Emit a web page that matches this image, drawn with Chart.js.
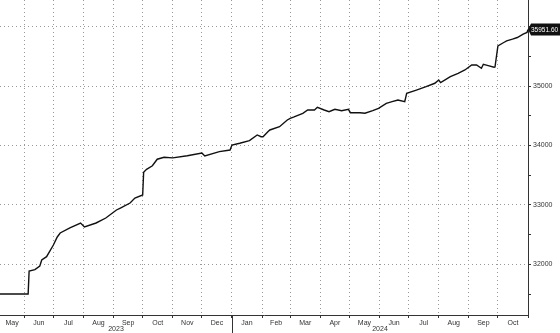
<!DOCTYPE html>
<html>
<head>
<meta charset="utf-8">
<script src="https://cdn.jsdelivr.net/npm/chart.js@4.4.1/dist/chart.umd.min.js"></script>
<style>
  html, body { margin: 0; padding: 0; background: #fff; }
  #wrap { width: 560px; height: 333px; position: relative; }
</style>
</head>
<body>
<div id="wrap"><canvas id="chart"></canvas></div>
<script>
// values
const dates = [
  "2023-05-07", "2023-06-05", "2023-06-06", "2023-06-12", "2023-06-17", "2023-06-19",
  "2023-06-24", "2023-07-01", "2023-07-05", "2023-07-08", "2023-07-18", "2023-07-29",
  "2023-08-02", "2023-08-14", "2023-08-24", "2023-09-04", "2023-09-08", "2023-09-18",
  "2023-09-23", "2023-10-01", "2023-10-02", "2023-10-05", "2023-10-11", "2023-10-16",
  "2023-10-23", "2023-11-01", "2023-11-16", "2023-12-01", "2023-12-04", "2023-12-19",
  "2023-12-30", "2024-01-01", "2024-01-09", "2024-01-19", "2024-01-27", "2024-01-31",
  "2024-02-02", "2024-02-07", "2024-02-09", "2024-02-19", "2024-02-27", "2024-03-01",
  "2024-03-05", "2024-03-14", "2024-03-19", "2024-03-26", "2024-03-29", "2024-04-05",
  "2024-04-10", "2024-04-16", "2024-04-23", "2024-04-30", "2024-05-02", "2024-05-12",
  "2024-05-17", "2024-05-25", "2024-05-31", "2024-06-08", "2024-06-14", "2024-06-20",
  "2024-06-27", "2024-06-29", "2024-07-09", "2024-07-19", "2024-07-28", "2024-08-01",
  "2024-08-03", "2024-08-13", "2024-08-21", "2024-08-28", "2024-09-04", "2024-09-09",
  "2024-09-14", "2024-09-16", "2024-09-21", "2024-09-27", "2024-09-28", "2024-10-01",
  "2024-10-07", "2024-10-10", "2024-10-16", "2024-10-21", "2024-10-27", "2024-10-31",
  "2024-11-01"
];
const values = [
  31500, 31500, 31887, 31910, 31971, 32072,
  32128, 32325, 32460, 32527, 32611, 32695,
  32628, 32695, 32779, 32914, 32947, 33031,
  33116, 33166, 33548, 33598, 33658, 33768,
  33800, 33790, 33826, 33873, 33822, 33895,
  33923, 34007, 34036, 34080, 34176, 34147,
  34147, 34231, 34260, 34315, 34428, 34457,
  34480, 34541, 34596, 34596, 34642, 34596,
  34568, 34608, 34585, 34608, 34551, 34551,
  34541, 34585, 34625, 34709, 34736, 34765,
  34736, 34877, 34932, 34988, 35046, 35100,
  35056, 35157, 35214, 35270, 35354, 35354,
  35298, 35365, 35343, 35315, 35320, 35675,
  35732, 35759, 35788, 35816, 35872, 35900,
  35951.6
];
const yTicks = [31500, 32000, 32500, 33000, 33500, 34000, 34500, 35000, 35500, 36000];
const monthNames = ["Jan", "Feb", "Mar", "Apr", "May", "Jun", "Jul", "Aug", "Sep", "Oct", "Nov", "Dec"];
const yearLabels = ["2023", "2024"];
const lastLabel = "35951.60";

const DAY = 86400000;
const base = Date.UTC(2024, 0, 1);
function dayNum(s) {
  const p = s.split("-").map(Number);
  return (Date.UTC(p[0], p[1] - 1, p[2]) - base) / DAY;
}
function dayOf(y, m) { return (Date.UTC(y, m, 1) - base) / DAY; }

const xMin = dayNum(dates[0]);
const xMax = dayNum(dates[dates.length - 1]);

// month boundaries and label positions
const xTicks = [];
for (let y = 2023; y <= 2024; y++) {
  for (let m = 0; m < 12; m++) {
    const a = dayOf(y, m), b = dayOf(y, m + 1);
    if (b <= xMin || a >= xMax) continue;
    if (a >= xMin) xTicks.push({ value: a, kind: "b", label: "" });
    const mid = (Math.max(a, xMin) + Math.min(b, xMax)) / 2;
    xTicks.push({ value: mid, kind: "m", label: monthNames[m] });
  }
}
xTicks.push({ value: xMax, kind: "b", label: "" });
xTicks.sort((p, q) => p.value - q.value);

const points = dates.map((d, i) => ({ x: dayNum(d), y: values[i] }));

Chart.defaults.font.family = "'Liberation Sans', Arial, sans-serif";
Chart.defaults.font.size = 7;
Chart.defaults.color = "#333";

const extras = {
  id: "extras",
  afterDraw(chart) {
    const ctx = chart.ctx;
    const xs = chart.scales.x, ys = chart.scales.y;
    const bottom = chart.chartArea.bottom;
    ctx.save();
    // year separator and labels
    const sep = xs.getPixelForValue(0);
    ctx.strokeStyle = "#333";
    ctx.lineWidth = 1;
    ctx.beginPath();
    ctx.moveTo(Math.round(sep) + 0.5, bottom);
    ctx.lineTo(Math.round(sep) + 0.5, 333);
    ctx.stroke();
    ctx.fillStyle = "#333";
    ctx.font = "7px 'Liberation Sans', Arial, sans-serif";
    ctx.textAlign = "center";
    ctx.textBaseline = "middle";
    ctx.fillText(yearLabels[0], (xs.left + sep) / 2, 329);
    ctx.fillText(yearLabels[1], (sep + xs.right) / 2, 329);
    // last value tag
    const cy = ys.getPixelForValue(values[values.length - 1]);
    const lx = chart.chartArea.right;
    ctx.fillStyle = "#111";
    ctx.beginPath();
    ctx.moveTo(lx, cy);
    ctx.lineTo(lx + 3, cy - 6);
    ctx.lineTo(560, cy - 6);
    ctx.lineTo(560, cy + 6);
    ctx.lineTo(lx + 3, cy + 6);
    ctx.closePath();
    ctx.fill();
    ctx.fillStyle = "#fff";
    ctx.font = "6.5px 'Liberation Sans', Arial, sans-serif";
    ctx.textAlign = "left";
    ctx.fillText(lastLabel, lx + 3, cy + 0.5);
    ctx.restore();
  }
};

new Chart(document.getElementById("chart"), {
  type: "line",
  data: {
    datasets: [{
      data: points,
      borderColor: "#111",
      borderWidth: 1.4,
      pointRadius: 0,
      tension: 0,
      fill: false
    }]
  },
  options: {
    responsive: true,
    maintainAspectRatio: false,
    animation: false,
    layout: { padding: 0 },
    plugins: { legend: { display: false }, tooltip: { enabled: false } },
    scales: {
      x: {
        type: "linear",
        min: xMin,
        max: xMax,
        afterBuildTicks(scale) { scale.ticks = xTicks.map(t => ({ value: t.value })); },
        afterFit(scale) { scale.height = 18; scale.paddingLeft = 0; scale.paddingRight = 0; },
        ticks: {
          autoSkip: false,
          maxRotation: 0,
          padding: 1,
          color: "#333",
          callback(v, i) { return xTicks[i] ? xTicks[i].label : ""; }
        },
        grid: {
          color: c => (c.tick && xTicks[c.index] && xTicks[c.index].kind === "b") ? "#999" : "rgba(0,0,0,0)",
          tickColor: c => (xTicks[c.index] && xTicks[c.index].kind === "b") ? "#333" : "rgba(0,0,0,0)",
          tickLength: 3,
          lineWidth: 1
        },
        border: { display: true, color: "#333", width: 1, dash: [1, 3] }
      },
      y: {
        position: "right",
        min: 31147,
        max: 36447,
        afterBuildTicks(scale) { scale.ticks = yTicks.map(v => ({ value: v })); },
        afterFit(scale) { scale.width = 32; scale.paddingTop = 0; scale.paddingBottom = 0; },
        ticks: {
          padding: 2,
          color: "#333",
          callback: v => (v % 1000 === 0 ? String(v) : "")
        },
        grid: {
          color: c => (c.tick && c.tick.value % 1000 === 0) ? "#999" : "rgba(0,0,0,0)",
          tickColor: "#333",
          tickLength: 3,
          lineWidth: 1
        },
        border: { display: true, color: "#333", width: 1, dash: [1, 3] }
      }
    }
  },
  plugins: [extras]
});
</script>
</body>
</html>
